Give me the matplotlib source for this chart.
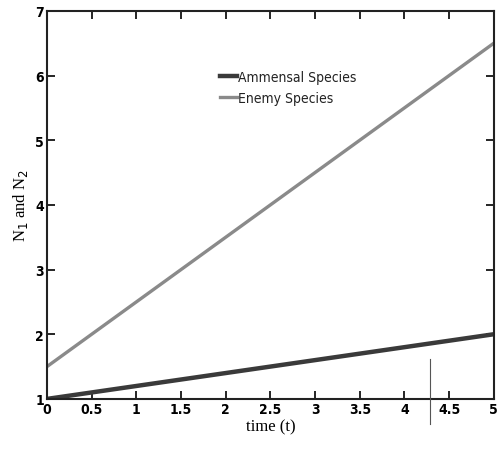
import matplotlib.pyplot as plt
from matplotlib.lines import Line2D

t = [0, 1, 2, 3, 4, 5]
ammensal = [1.0, 1.2, 1.4, 1.6, 1.8, 2.0]
enemy = [1.5, 2.5, 3.5, 4.5, 5.5, 6.5]
xticks = [0, 0.5, 1, 1.5, 2, 2.5, 3, 3.5, 4, 4.5, 5]
xticklabels = ["0", "0.5", "1", "1.5", "2", "2.5", "3", "3.5", "4", "4.5", "5"]
yticks = [1, 2, 3, 4, 5, 6, 7]


def main() -> None:
    fig = plt.figure(figsize=(4.97, 4.56), dpi=100)
    ax = fig.add_axes([0.0946, 0.123, 0.899, 0.851])

    ax.plot(t, ammensal, color="#3a3a3a", linewidth=3.2, label="Ammensal Species")
    ax.plot(t, enemy, color="#8a8a8a", linewidth=2.4, label="Enemy Species")

    ax.set_xlim(0, 5)
    ax.set_ylim(1, 7)
    ax.set_xticks(xticks)
    ax.set_xticklabels(xticklabels)
    ax.set_yticks(yticks)

    tick_font = dict(family="DejaVu Sans", stretch="condensed", weight="bold", size=10)
    for lab in ax.get_xticklabels() + ax.get_yticklabels():
        lab.set_fontproperties(tick_font)

    ax.tick_params(direction="in", top=True, right=True, length=6, width=1.2,
                   pad=2)
    for sp in ax.spines.values():
        sp.set_linewidth(1.5)
        sp.set_color("#222222")

    ax.set_xlabel("time (t)", family="Liberation Serif", fontsize=12, labelpad=2)
    ax.set_ylabel("N$_1$ and N$_2$", family="Liberation Serif", fontsize=12,
                  labelpad=4)

    leg = ax.legend(loc="upper left", bbox_to_anchor=(0.36, 0.88), frameon=False,
                    handlelength=1.2, handletextpad=0.1, labelspacing=0.5,
                    prop=dict(family="DejaVu Sans", stretch="condensed", size=10))
    for txt in leg.get_texts():
        txt.set_color("#222222")

    # thin vertical mark near the bottom right
    fig.add_artist(Line2D([430 / 497, 430 / 497], [1 - 360 / 456, 1 - 425 / 456],
                          color="#555555", linewidth=0.8))

    fig.savefig("out.png", dpi=100)


if __name__ == "__main__":
    main()
